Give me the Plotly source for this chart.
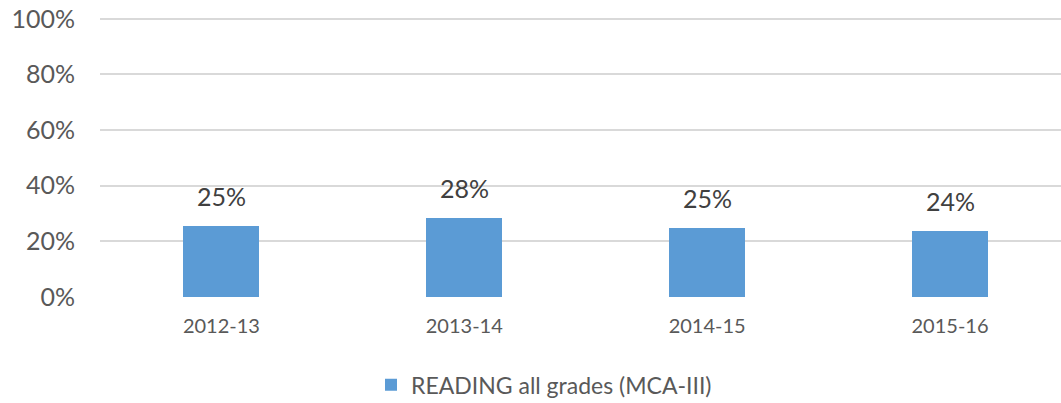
import plotly.graph_objects as go

categories = ["2012-13", "2013-14", "2014-15", "2015-16"]
values = [0.256, 0.284, 0.249, 0.238]
labels = ["25%", "28%", "25%", "24%"]
series_name = "READING all grades (MCA-III)"
y_ticks = [0, 0.2, 0.4, 0.6, 0.8, 1.0]
y_ticklabels = ["0%", "20%", "40%", "60%", "80%", "100%"]

FONT = "Lato"

fig = go.Figure()
fig.add_trace(go.Bar(
    x=list(range(len(categories))), y=values, name=series_name,
    marker=dict(color="#5B9BD5", line=dict(width=0)),
    width=0.313, showlegend=True,
))

for i, (v, t) in enumerate(zip(values, labels)):
    fig.add_annotation(x=i, y=v, text=t, showarrow=False, xanchor="center",
                       yanchor="middle", yshift=30,
                       font=dict(family=FONT, size=25, color="#404040"))

fig.update_layout(
    width=1061, height=403,
    margin=dict(l=100, r=0, t=15.7, b=105.5, autoexpand=False),
    plot_bgcolor="white", paper_bgcolor="white",
    bargap=0,
    showlegend=True,
    legend=dict(orientation="h", x=0.282, xanchor="left",
                y=-0.389, yanchor="bottom",
                font=dict(family=FONT, size=23, color="#595959")),
    font=dict(family=FONT, color="#595959"),
)
fig.update_xaxes(
    range=[-0.5, 3.457], tickmode="array", tickvals=list(range(len(categories))),
    ticktext=categories, showgrid=False, zeroline=False, showline=False,
    tickfont=dict(family=FONT, size=20, color="#595959"),
    ticks="", tickangle=0, ticklabelstandoff=15, automargin=False,
)
fig.update_yaxes(
    range=[0, 1.01], tickmode="array", tickvals=y_ticks, ticktext=y_ticklabels,
    showgrid=True, gridcolor="#D9D9D9", gridwidth=1.5, zeroline=False,
    showline=False, tickfont=dict(family=FONT, size=25, color="#595959"),
    ticks="", ticklabelstandoff=24, automargin=False, ticklabeloverflow="allow",
)

fig.write_html("out.html", config={"displayModeBar": False},
               post_script="document.body.style.margin='0';")
